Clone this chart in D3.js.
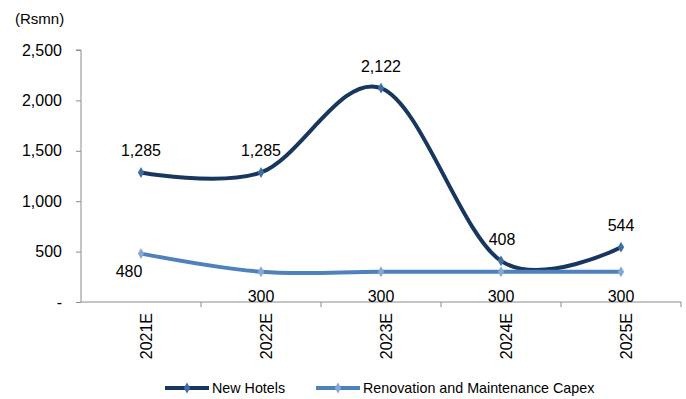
<!DOCTYPE html>
<html>
<head>
<meta charset="utf-8">
<script src="https://cdn.jsdelivr.net/npm/d3@7"></script>
<style>
  body { margin: 0; background: #fff; }
  svg { display: block; font-family: "Liberation Sans", Arial, sans-serif; }
</style>
</head>
<body>
<svg id="chart" width="686" height="399"></svg>
<script>
// Capex plan by year (Rs mn)
const categories = ["2021E", "2022E", "2023E", "2024E", "2025E"];
const newHotels = [1285, 1285, 2122, 408, 544];
const renovation = [480, 300, 300, 300, 300];
const yTicks = [0, 500, 1000, 1500, 2000, 2500];
const seriesNames = ["New Hotels", "Renovation and Maintenance Capex"];

const svg = d3.select("#chart");
const left = 81, right = 681;

const x = d3.scaleBand().domain(categories).range([left, right]).padding(0);
const y = d3.scaleLinear().domain([0, 2500]).range([302, 50]);
const cx = d => x(d) + x.bandwidth() / 2;

const axisColor = "#8c8c8c";

// Y axis
const yAxis = d3.axisLeft(y).tickValues(yTicks).tickSize(5).tickPadding(14)
  .tickFormat(v => v === 0 ? "-" : d3.format(",")(v));
const gy = svg.append("g").attr("transform", `translate(${left},0)`).call(yAxis);
gy.select(".domain").attr("stroke", axisColor).attr("d", `M-5,${y(2500)}H0V${y(0)}`);
gy.selectAll(".tick line").attr("stroke", axisColor);
gy.selectAll(".tick text").attr("fill", "#000").style("font-size", "16px");

// X axis with ticks at category boundaries
const gx = svg.append("g").attr("transform", `translate(0,${y(0)})`);
gx.append("line").attr("x1", left).attr("x2", right).attr("stroke", axisColor);
gx.selectAll(".bound").data(categories).join("line")
  .attr("class", "bound")
  .attr("x1", d => x(d) + x.bandwidth())
  .attr("x2", d => x(d) + x.bandwidth())
  .attr("y1", 0).attr("y2", 5).attr("stroke", axisColor);
gx.selectAll(".cat").data(categories).join("text")
  .attr("class", "cat")
  .attr("transform", d => `translate(${cx(d) + 11},11) rotate(-90)`)
  .attr("text-anchor", "end")
  .style("font-size", "16px")
  .text(d => d);

// Unit label
svg.append("text").attr("x", 15).attr("y", 24).style("font-size", "15px").text("(Rsmn)");

const line = d3.line().x(d => cx(d.c)).y(d => y(d.v)).curve(d3.curveCardinal.tension(0));

const series = [
  { name: seriesNames[0], values: newHotels, color: "#17375e", marker: "#3f6ea5" },
  { name: seriesNames[1], values: renovation, color: "#4f81bd", marker: "#86a8d4" }
];

const diamond = d3.symbol().type(d3.symbolDiamond).size(34);

series.forEach(s => {
  const pts = categories.map((c, i) => ({ c, v: s.values[i] }));
  svg.append("path").datum(pts).attr("d", line)
    .attr("fill", "none").attr("stroke", s.color).attr("stroke-width", 4)
    .attr("stroke-linejoin", "round").attr("stroke-linecap", "round");
  svg.selectAll(null).data(pts).join("path")
    .attr("d", diamond)
    .attr("transform", d => `translate(${cx(d.c)},${y(d.v)})`)
    .attr("fill", s.marker);
});

// Data labels
const lblNew = [
  { dx: 0, dy: -16 }, { dx: 0, dy: -16 }, { dx: 0, dy: -16.5 }, { dx: 1, dy: -16 }, { dx: 0, dy: -16.5 }
];
svg.selectAll(".lblA").data(newHotels).join("text")
  .attr("x", (v, i) => cx(categories[i]) + lblNew[i].dx)
  .attr("y", (v, i) => y(v) + lblNew[i].dy)
  .attr("text-anchor", "middle").style("font-size", "16px")
  .text(v => d3.format(",")(v));

const lblRen = [{ dx: -12, dy: 23.5 }, { dx: 0, dy: 30 }, { dx: 0, dy: 30 }, { dx: 0, dy: 30 }, { dx: 0, dy: 30 }];
svg.selectAll(".lblB").data(renovation).join("text")
  .attr("x", (v, i) => cx(categories[i]) + lblRen[i].dx)
  .attr("y", (v, i) => y(v) + lblRen[i].dy)
  .attr("text-anchor", "middle").style("font-size", "16px")
  .text(v => d3.format(",")(v));

// Legend
const legendX = [165, 316];
const leg = svg.append("g");
series.forEach((s, i) => {
  const g = leg.append("g").attr("transform", `translate(${legendX[i]},388)`);
  g.append("line").attr("x1", 0).attr("x2", 44).attr("stroke", s.color).attr("stroke-width", 4);
  g.append("path").attr("d", diamond).attr("transform", "translate(22,0)").attr("fill", s.marker);
  g.append("text").attr("x", 47).attr("y", 5).style("font-size", "14.3px").text(s.name);
});
</script>
</body>
</html>
